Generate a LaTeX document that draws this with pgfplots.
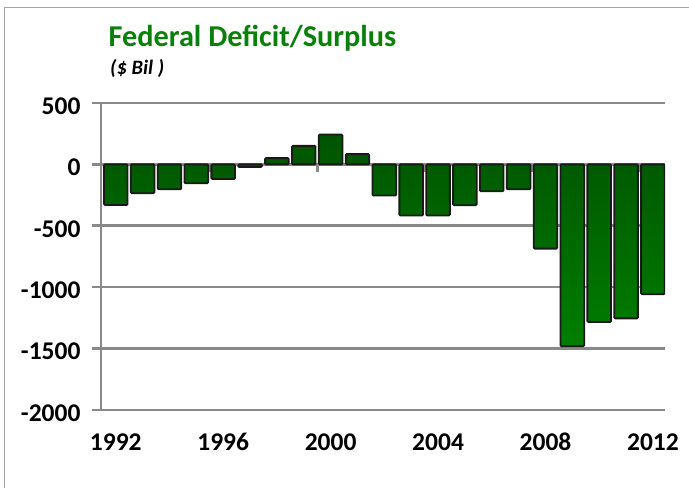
\documentclass[border=0pt]{standalone}
\usepackage{pgfplots}
\pgfplotsset{compat=1.18}
\usepackage{fontspec}
\setmainfont{Carlito}
\definecolor{gridgray}{RGB}{137,137,137}
\definecolor{titlegreen}{RGB}{10,128,10}
\definecolor{bartop}{RGB}{0,84,0}
\definecolor{barbot}{RGB}{0,126,0}
\definecolor{framegray}{RGB}{165,165,165}
\begin{document}
\begin{tikzpicture}
\path[use as bounding box] (0bp,0bp) rectangle (689bp,488bp);
\draw[framegray, line width=1.2bp] (4.5bp,0bp) -- (4.5bp,480.5bp) -- (689bp,480.5bp);
\node[anchor=base west, inner sep=0, text=titlegreen, font=\bfseries\fontsize{30.3bp}{32bp}\selectfont] at (108.5bp,441.5bp) {Federal Deficit/Surplus};
\node[anchor=base west, inner sep=0, font=\bfseries\itshape\fontsize{20.5bp}{22bp}\selectfont] at (110bp,413bp) {(\$ Bil )};
\begin{axis}[at={(101bp,78bp)}, anchor=south west, scale only axis,
  width=564bp, height=307bp,
  xmin=1991.45, xmax=2012.45, ymin=-2000, ymax=500,
  ytick={-2000,-1500,...,500}, xtick={1992,1996,...,2012},
  axis x line*=bottom, axis y line*=left,
  x axis line style={draw=none},
  y axis line style={gridgray, line width=2.6bp, -},
  ymajorgrids, grid style={gridgray, line width=2.6bp},
  ytick style={gridgray, line width=2.6bp}, xtick style={draw=none},
  tick align=outside, major tick length=9bp,
  /pgf/number format/assume math mode=true,
  /pgf/number format/1000 sep={},
  tick label style={font=\bfseries\fontsize{25.5bp}{27bp}\selectfont},
  xticklabel style={anchor=base, yshift=-31.5bp},
  yticklabel style={xshift=-8bp, yshift=-3bp},
  ]
  \draw[gridgray, line width=2.6bp] (axis cs:1995.5,0) -- ++(0pt,-8bp);
  \draw[gridgray, line width=2.6bp] (axis cs:1999.5,0) -- ++(0pt,-8bp);
  \draw[gridgray, line width=2.6bp] (axis cs:2003.5,0) -- ++(0pt,-8bp);
  \draw[gridgray, line width=2.6bp] (axis cs:2007.5,0) -- ++(0pt,-8bp);
  \draw[gridgray, line width=2.6bp] (axis cs:2011.5,0) -- ++(0pt,-8bp);
  \addplot[ybar, bar width=0.88, draw=black!90, line width=1.8bp, rounded corners=1bp,
    top color=bartop, bottom color=barbot] coordinates {
    (1992,-330) (1993,-235) (1994,-203) (1995,-154) (1996,-119) (1997,-22)
    (1998,51) (1999,151) (2000,243) (2001,84) (2002,-254) (2003,-416)
    (2004,-416) (2005,-332) (2006,-219) (2007,-203) (2008,-686)
    (2009,-1481) (2010,-1284) (2011,-1254) (2012,-1057)
  };
\end{axis}
\end{tikzpicture}
\end{document}
